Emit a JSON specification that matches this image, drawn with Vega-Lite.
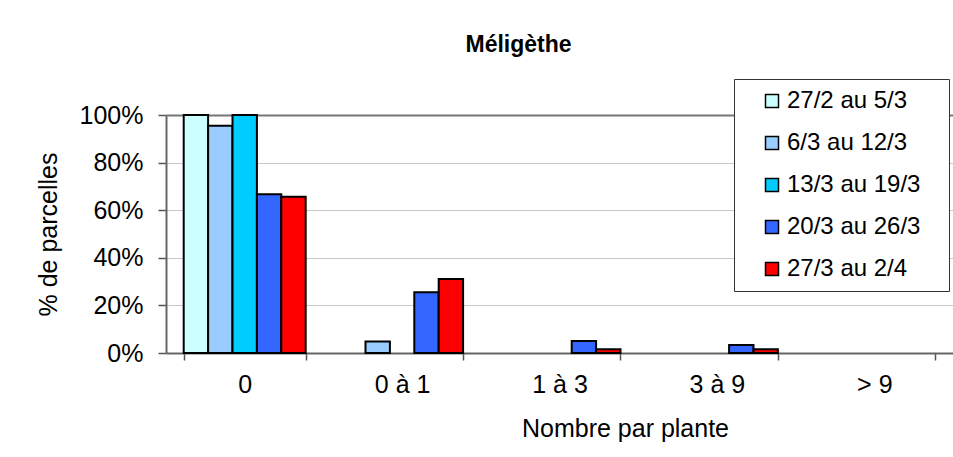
{
  "$schema": "https://vega.github.io/schema/vega-lite/v6.json",
  "autosize": {"type": "none"},
  "padding": {"left": 166, "top": 115, "right": 0, "bottom": 104},
  "width": 787,
  "height": 238,
  "background": "white",
  "title": {
    "text": "Méligèthe",
    "font": "Liberation Sans",
    "fontSize": 23,
    "fontWeight": "bold",
    "color": "black",
    "anchor": "middle",
    "dx": -41,
    "offset": 22
  },
  "data": {
    "values": [
      {"classe": "0", "periode": "27/2 au 5/3", "valeur": 1.0},
      {"classe": "0", "periode": "6/3 au 12/3", "valeur": 0.955},
      {"classe": "0", "periode": "13/3 au 19/3", "valeur": 1.0},
      {"classe": "0", "periode": "20/3 au 26/3", "valeur": 0.667},
      {"classe": "0", "periode": "27/3 au 2/4", "valeur": 0.657},
      {"classe": "0 à 1", "periode": "27/2 au 5/3", "valeur": 0},
      {"classe": "0 à 1", "periode": "6/3 au 12/3", "valeur": 0.048},
      {"classe": "0 à 1", "periode": "13/3 au 19/3", "valeur": 0},
      {"classe": "0 à 1", "periode": "20/3 au 26/3", "valeur": 0.255},
      {"classe": "0 à 1", "periode": "27/3 au 2/4", "valeur": 0.311},
      {"classe": "1 à 3", "periode": "27/2 au 5/3", "valeur": 0},
      {"classe": "1 à 3", "periode": "6/3 au 12/3", "valeur": 0},
      {"classe": "1 à 3", "periode": "13/3 au 19/3", "valeur": 0},
      {"classe": "1 à 3", "periode": "20/3 au 26/3", "valeur": 0.05},
      {"classe": "1 à 3", "periode": "27/3 au 2/4", "valeur": 0.016},
      {"classe": "3 à 9", "periode": "27/2 au 5/3", "valeur": 0},
      {"classe": "3 à 9", "periode": "6/3 au 12/3", "valeur": 0},
      {"classe": "3 à 9", "periode": "13/3 au 19/3", "valeur": 0},
      {"classe": "3 à 9", "periode": "20/3 au 26/3", "valeur": 0.034},
      {"classe": "3 à 9", "periode": "27/3 au 2/4", "valeur": 0.016},
      {"classe": "> 9", "periode": "27/2 au 5/3", "valeur": 0},
      {"classe": "> 9", "periode": "6/3 au 12/3", "valeur": 0},
      {"classe": "> 9", "periode": "13/3 au 19/3", "valeur": 0},
      {"classe": "> 9", "periode": "20/3 au 26/3", "valeur": 0},
      {"classe": "> 9", "periode": "27/3 au 2/4", "valeur": 0}
    ]
  },
  "mark": {"type": "bar", "stroke": "black", "strokeWidth": 2},
  "encoding": {
    "x": {
      "field": "classe",
      "type": "nominal",
      "sort": ["0", "0 à 1", "1 à 3", "3 à 9", "> 9"],
      "scale": {"paddingInner": 0.225, "paddingOuter": 0.1125},
      "axis": {
        "title": "Nombre par plante",
        "titleX": 459,
        "labelAngle": 0,
        "tickBand": "extent",
        "tickSize": 7,
        "tickColor": "#555555",
        "tickWidth": 1.5,
        "domainColor": "#666666",
        "domainWidth": 2,
        "labelPadding": 12,
        "titlePadding": 19,
        "labelFont": "Liberation Sans",
        "titleFont": "Liberation Sans",
        "labelFontSize": 25,
        "titleFontSize": 25,
        "titleFontWeight": "normal",
        "labelColor": "black",
        "titleColor": "black",
        "grid": false
      }
    },
    "xOffset": {
      "field": "periode",
      "type": "nominal",
      "sort": ["27/2 au 5/3", "6/3 au 12/3", "13/3 au 19/3", "20/3 au 26/3", "27/3 au 2/4"],
      "scale": {"paddingInner": 0, "paddingOuter": 0}
    },
    "y": {
      "field": "valeur",
      "type": "quantitative",
      "scale": {"domain": [0, 1], "nice": false},
      "axis": {
        "title": "% de parcelles",
        "values": [0, 0.2, 0.4, 0.6, 0.8, 1],
        "format": ".0%",
        "tickSize": 8,
        "tickColor": "#555555",
        "tickWidth": 1.5,
        "domainColor": "#666666",
        "domainWidth": 2,
        "labelPadding": 15,
        "titlePadding": 18,
        "labelFont": "Liberation Sans",
        "titleFont": "Liberation Sans",
        "labelFontSize": 25,
        "titleFontSize": 25,
        "titleFontWeight": "normal",
        "labelColor": "black",
        "titleColor": "black",
        "grid": true,
        "gridColor": {"condition": {"test": "datum.value === 1", "value": "#777777"}, "value": "#C8C8C8"},
        "gridWidth": {"condition": {"test": "datum.value === 1", "value": 2}, "value": 1}
      }
    },
    "color": {
      "field": "periode",
      "type": "nominal",
      "scale": {
        "domain": ["27/2 au 5/3", "6/3 au 12/3", "13/3 au 19/3", "20/3 au 26/3", "27/3 au 2/4"],
        "range": ["#CCFFFF", "#99CCFF", "#00CCFF", "#3366FF", "#FF0000"]
      },
      "legend": {
        "title": null,
        "orient": "none",
        "legendX": 568,
        "legendY": -36,
        "padding": 10,
        "symbolOffset": 16,
        "symbolType": "square",
        "symbolSize": 169,
        "symbolStrokeColor": "black",
        "symbolStrokeWidth": 1.5,
        "labelFont": "Liberation Sans",
        "labelFontSize": 24,
        "labelColor": "black",
        "labelOffset": 3,
        "labelLimit": 300,
        "rowPadding": 18,
        "labelExpr": "datum.label + '\u2800'",
        "strokeColor": "#333333",
        "fillColor": "white"
      }
    },
    "strokeOpacity": {
      "condition": {"test": "datum.valeur > 0", "value": 1},
      "value": 0
    }
  },
  "config": {
    "view": {"stroke": null},
    "font": "Liberation Sans"
  }
}
